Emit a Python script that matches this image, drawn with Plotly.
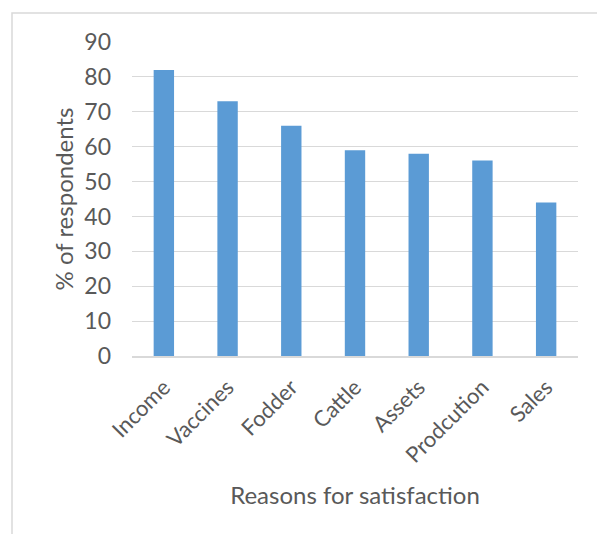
import plotly.graph_objects as go

reasons = ["Income", "Vaccines", "Fodder", "Cattle", "Assets", "Prodcution", "Sales"]
respondents_pct = [82, 73, 66, 59, 58, 56, 44]

W, H = 597, 534
L, R, T, B = 132, 19, 42, 178
pw, ph = W - L - R, H - T - B

grey_text = "#595959"
grid = "#D9D9D9"
font_family = "Lato, Open Sans, sans-serif"

fig = go.Figure(
    go.Bar(
        x=reasons,
        y=respondents_pct,
        marker=dict(color="#5B9BD5", line=dict(width=0)),
        width=0.32,
    )
)

fig.update_layout(
    width=W,
    height=H,
    margin=dict(l=L, r=R, t=T, b=B),
    paper_bgcolor="white",
    plot_bgcolor="white",
    showlegend=False,
    font=dict(family=font_family, color=grey_text, size=22),
    shapes=[
        # outer chart frame (top and left edges visible)
        dict(
            type="rect", xref="paper", yref="paper",
            x0=(12 - L) / pw, x1=1.2,
            y0=-1.0, y1=1 + (T - 13) / ph,
            line=dict(color=grid, width=1.5),
            layer="below",
        )
    ],
)

fig.update_yaxes(
    range=[0, 90],
    dtick=10,
    showgrid=True,
    gridcolor=grid,
    gridwidth=1,
    zeroline=False,
    showline=False,
    ticks="",
    ticklabelstandoff=20,
    tickfont=dict(size=23, color=grey_text),
    title=dict(text="% of respondents", font=dict(size=24, color=grey_text), standoff=3),
)

fig.update_xaxes(
    showgrid=False,
    showline=True,
    linecolor=grid,
    linewidth=1.5,
    ticks="",
    tickangle=-45,
    ticklabelstandoff=8,
    tickfont=dict(size=22, color=grey_text),
    title=dict(text="Reasons for satisfaction", font=dict(size=24, color=grey_text), standoff=20),
)

fig.write_html("out.html")
